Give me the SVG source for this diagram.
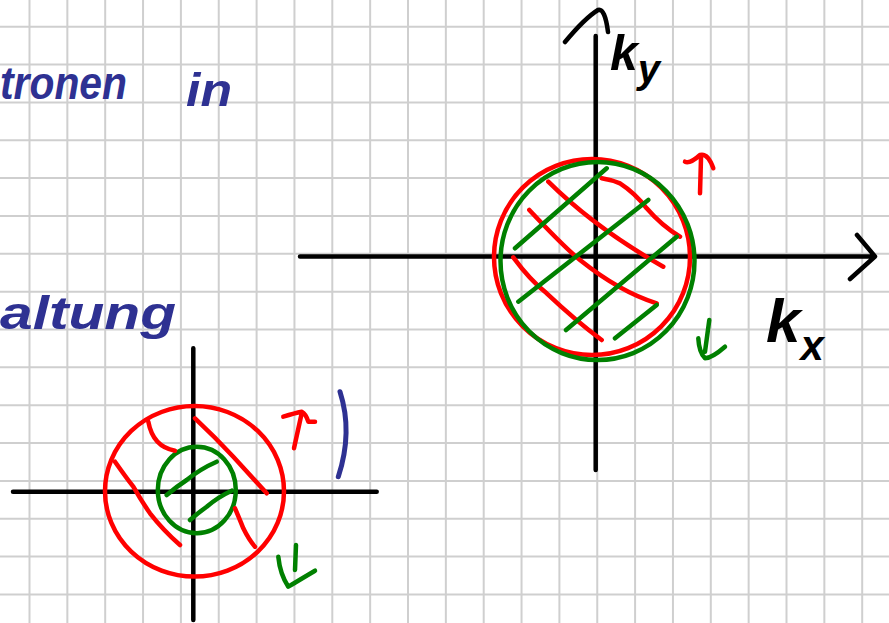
<svg xmlns="http://www.w3.org/2000/svg" width="889" height="623" viewBox="0 0 889 623">
<style>
.grid{stroke:#cfcfcf;stroke-width:2;fill:none}
.ink{fill:none;stroke-linecap:round;stroke-linejoin:round}
.k{stroke:#000;stroke-width:4.5}
.r{stroke:#ff0000;stroke-width:4.5}
.g{stroke:#008000;stroke-width:4.5}
.b{stroke:#2e3192;stroke-width:5}
.blue{font-family:"Liberation Sans",sans-serif;font-style:italic;font-weight:bold;fill:#2e3192}
.lbl{font-family:"Liberation Sans",sans-serif;font-style:italic;font-weight:bold;fill:#000}
</style>
<rect width="889" height="623" fill="#ffffff"/>
<path class="grid" d="M29.5,0V623M67.35,0V623M105.2,0V623M143.05,0V623M180.9,0V623M218.75,0V623M256.6,0V623M294.45,0V623M332.3,0V623M370.15,0V623M408,0V623M445.85,0V623M483.7,0V623M521.55,0V623M559.4,0V623M597.25,0V623M635.1,0V623M672.95,0V623M710.8,0V623M748.65,0V623M786.5,0V623M824.35,0V623M862.2,0V623M0,26.7H889M0,64.55H889M0,102.4H889M0,140.25H889M0,178.1H889M0,215.95H889M0,253.8H889M0,291.65H889M0,329.5H889M0,367.35H889M0,405.2H889M0,443.05H889M0,480.9H889M0,518.75H889M0,556.6H889M0,594.45H889"/>
<g id="heading">
<text class="blue" x="0" y="99" font-size="46" textLength="127" lengthAdjust="spacingAndGlyphs">tronen</text>
<text class="blue" x="186" y="106" font-size="46" textLength="46" lengthAdjust="spacingAndGlyphs">in</text>
<text class="blue" x="0" y="329" font-size="46" textLength="176" lengthAdjust="spacingAndGlyphs">altung</text>
</g>
<g id="large-plot">
<path class="ink k" d="M300,256.5H872M857,235L875,256.5L850,279"/>
<path class="ink k" d="M595.7,36V470M565,42Q585,18 598,10Q605,8 608,32"/>
<ellipse class="ink r" cx="592" cy="257" rx="98" ry="98"/>
<ellipse class="ink g" cx="597.5" cy="261" rx="97" ry="99"/>
<path class="ink r" d="M548.3,181.7Q595,228 663.3,266.7M529.3,210Q565,248 580,260Q620,292 656.7,303.3M513.3,257.3Q530,280 546.7,293.3Q575,320 601.7,340M601.7,178.3Q612,180 620,183.3Q635,193 646.7,208.3Q662,226 680,236.7"/>
<path class="ink g" d="M515,248.3L606.7,168.3M518.3,301.7L648.3,200M566,330L676.7,236.7M615,338.3L656.7,305"/>
<path class="ink r" d="M685,161.7Q690,164 700,155Q708,153 713.3,168.3M701,158.3L700,193.3"/>
<path class="ink g" d="M709.3,320L705,351.7M698.3,338.3Q699,352 705,358.3Q712,358 725,346.7"/>
<text class="lbl" x="610" y="70" font-size="50">k<tspan font-size="40" dy="13">y</tspan></text>
<text class="lbl" x="766" y="342" font-size="62">k<tspan font-size="42" dy="18">x</tspan></text>
</g>
<g id="small-plot">
<path class="ink k" d="M13,491.7H376.7M193.3,348.3V620"/>
<ellipse class="ink r" cx="194.5" cy="491.3" rx="89.5" ry="85.3"/>
<ellipse class="ink g" cx="196.8" cy="490" rx="39" ry="43.3"/>
<path class="ink r" d="M148.3,421.7Q153,447 175,450.7M115,461.7Q125,476 133.3,486.7Q142,502 150,513.3Q163,530 180,545M195,418.3Q215,437 233.3,456.7Q250,475 266.7,493.3M235,508.3Q240,520 243.3,528.3Q249,540 255,546.7"/>
<path class="ink g" d="M166.7,495Q176,487 186.7,480Q200,469 216.7,461.7M190,520Q198,513 206.7,506.7Q218,497 231.7,490.7"/>
<path class="ink r" d="M283.3,416.7Q295,413 301.7,411.7Q306,414 308.3,421.7L315,421.7M301.7,413.3L294,448.3"/>
<path class="ink g" d="M296,545L295,570M278.3,556.7Q280,574 288.3,586.7Q296,582 315,570.7"/>
<path class="ink b" d="M340,391.7Q353,432 338.3,476.7"/>
</g>
</svg>
